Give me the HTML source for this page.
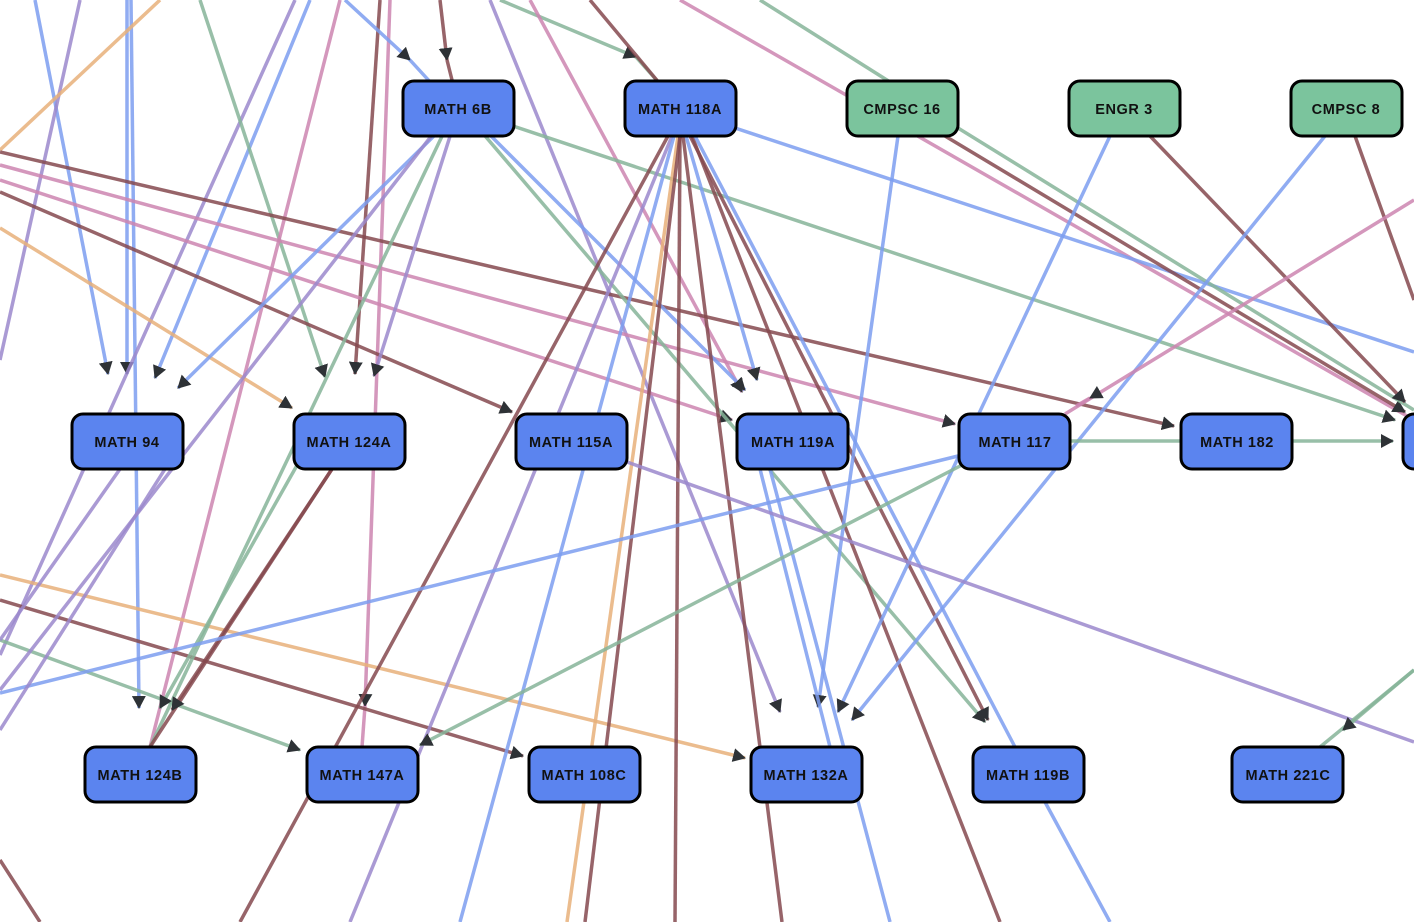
<!DOCTYPE html>
<html><head><meta charset="utf-8"><style>
html,body{margin:0;padding:0;background:#fff;width:1414px;height:922px;overflow:hidden}
svg{display:block}
text{font-family:"Liberation Sans",sans-serif;font-weight:bold;font-size:14.5px;fill:#111;letter-spacing:0.6px}
.e{fill:none;stroke-width:3.5;stroke-opacity:0.85}
.b{stroke:#7d9ef0}.p{stroke:#9b88cc}.k{stroke:#cc85b0}.g{stroke:#86b499}.r{stroke:#85494f}.o{stroke:#e8b07a}
</style></head><body>
<svg width="1414" height="922" viewBox="0 0 1414 922">
<defs><marker id="a" markerUnits="userSpaceOnUse" markerWidth="14" markerHeight="14" refX="12" refY="7" orient="auto"><path d="M0,0 L13,7 L0,14 z" fill="#2e3236"/></marker></defs>
<g>
<line class="e b" x1="35" y1="0" x2="108" y2="374" marker-end="url(#a)"/>
<line class="e b" x1="127" y1="0" x2="127" y2="374" marker-end="url(#a)"/>
<line class="e b" x1="131" y1="0" x2="139" y2="708" marker-end="url(#a)"/>
<line class="e b" x1="310" y1="0" x2="155" y2="378" marker-end="url(#a)"/>
<line class="e p" x1="295" y1="0" x2="0" y2="655"/>
<line class="e p" x1="80" y1="0" x2="0" y2="360"/>
<line class="e o" x1="160" y1="0" x2="0" y2="150"/>
<line class="e g" x1="200" y1="0" x2="325" y2="377" marker-end="url(#a)"/>
<line class="e k" x1="340" y1="0" x2="150" y2="747"/>
<line class="e r" x1="380" y1="0" x2="355" y2="374" marker-end="url(#a)"/>
<line class="e k" x1="390" y1="0" x2="365" y2="706" marker-end="url(#a)"/>
<line class="e k" x1="365" y1="706" x2="362" y2="747"/>
<line class="e r" x1="440" y1="0" x2="447" y2="60" marker-end="url(#a)"/>
<line class="e r" x1="447" y1="60" x2="453" y2="84"/>
<line class="e b" x1="345" y1="0" x2="410" y2="60" marker-end="url(#a)"/>
<line class="e b" x1="410" y1="60" x2="432" y2="84"/>
<line class="e p" x1="490" y1="0" x2="780" y2="712" marker-end="url(#a)"/>
<line class="e g" x1="500" y1="0" x2="636" y2="57" marker-end="url(#a)"/>
<line class="e g" x1="636" y1="57" x2="660" y2="84"/>
<line class="e k" x1="530" y1="0" x2="742" y2="392" marker-end="url(#a)"/>
<line class="e r" x1="590" y1="0" x2="660" y2="84"/>
<line class="e g" x1="760" y1="0" x2="890" y2="82"/>
<line class="e k" x1="680" y1="0" x2="1414" y2="420"/>
<line class="e r" x1="0" y1="152" x2="1174" y2="426" marker-end="url(#a)"/>
<line class="e r" x1="0" y1="192" x2="512" y2="412" marker-end="url(#a)"/>
<line class="e k" x1="0" y1="165" x2="955" y2="424" marker-end="url(#a)"/>
<line class="e k" x1="0" y1="180" x2="732" y2="420" marker-end="url(#a)"/>
<line class="e o" x1="0" y1="228" x2="292" y2="408" marker-end="url(#a)"/>
<line class="e o" x1="0" y1="575" x2="745" y2="758" marker-end="url(#a)"/>
<line class="e r" x1="0" y1="600" x2="523" y2="756" marker-end="url(#a)"/>
<line class="e g" x1="0" y1="640" x2="300" y2="750" marker-end="url(#a)"/>
<line class="e r" x1="0" y1="860" x2="40" y2="922"/>
<line class="e b" x1="440" y1="130" x2="178" y2="388" marker-end="url(#a)"/>
<line class="e p" x1="436" y1="130" x2="0" y2="690"/>
<line class="e g" x1="445" y1="130" x2="150" y2="747"/>
<line class="e p" x1="452" y1="130" x2="374" y2="376" marker-end="url(#a)"/>
<line class="e g" x1="480" y1="130" x2="985" y2="722" marker-end="url(#a)"/>
<line class="e b" x1="485" y1="130" x2="745" y2="390" marker-end="url(#a)"/>
<line class="e g" x1="510" y1="125" x2="1395" y2="420" marker-end="url(#a)"/>
<line class="e r" x1="668" y1="136" x2="240" y2="922"/>
<line class="e p" x1="672" y1="136" x2="350" y2="922"/>
<line class="e b" x1="674" y1="136" x2="460" y2="922"/>
<line class="e o" x1="678" y1="136" x2="567" y2="922"/>
<line class="e r" x1="680" y1="136" x2="585" y2="922"/>
<line class="e r" x1="680" y1="136" x2="675" y2="922"/>
<line class="e r" x1="683" y1="136" x2="782" y2="922"/>
<line class="e b" x1="686" y1="136" x2="757" y2="380" marker-end="url(#a)"/>
<line class="e r" x1="690" y1="136" x2="988" y2="720" marker-end="url(#a)"/>
<line class="e r" x1="692" y1="136" x2="1000" y2="922"/>
<line class="e b" x1="695" y1="136" x2="1015" y2="747"/>
<line class="e b" x1="735" y1="128" x2="1414" y2="352"/>
<line class="e b" x1="898" y1="136" x2="818" y2="707" marker-end="url(#a)"/>
<line class="e r" x1="945" y1="136" x2="1405" y2="412" marker-end="url(#a)"/>
<line class="e g" x1="958" y1="128" x2="1414" y2="410"/>
<line class="e b" x1="1110" y1="136" x2="838" y2="712" marker-end="url(#a)"/>
<line class="e r" x1="1150" y1="136" x2="1405" y2="402" marker-end="url(#a)"/>
<line class="e b" x1="1325" y1="136" x2="852" y2="720" marker-end="url(#a)"/>
<line class="e r" x1="1355" y1="136" x2="1414" y2="300"/>
<line class="e k" x1="1414" y1="200" x2="1065" y2="414"/>
<line class="e k" x1="1090" y1="398" x2="1076" y2="406" marker-start="url(#a)"/>
<line class="e b" x1="770" y1="469" x2="890" y2="922"/>
<line class="e b" x1="760" y1="469" x2="830" y2="747"/>
<line class="e p" x1="627" y1="462" x2="1414" y2="742"/>
<line class="e r" x1="332" y1="469" x2="150" y2="747"/>
<line class="e r" x1="332" y1="469" x2="172" y2="710" marker-end="url(#a)"/>
<line class="e g" x1="300" y1="460" x2="160" y2="708" marker-end="url(#a)"/>
<line class="e g" x1="1071" y1="441" x2="1181" y2="441"/>
<line class="e g" x1="1293" y1="441" x2="1393" y2="441" marker-end="url(#a)"/>
<line class="e b" x1="958" y1="456" x2="0" y2="693"/>
<line class="e g" x1="962" y1="465" x2="420" y2="745" marker-end="url(#a)"/>
<line class="e p" x1="120" y1="469" x2="0" y2="640"/>
<line class="e p" x1="165" y1="469" x2="0" y2="730"/>
<line class="e g" x1="1320" y1="747" x2="1414" y2="670"/>
<line class="e g" x1="1414" y1="670" x2="1343" y2="730" marker-end="url(#a)"/>
<line class="e b" x1="1045" y1="802" x2="1110" y2="922"/>
</g>
<g stroke="#000" stroke-width="3">
<rect x="403" y="81" width="111" height="55" rx="11" fill="#5b84ef"/>
<rect x="625" y="81" width="111" height="55" rx="11" fill="#5b84ef"/>
<rect x="847" y="81" width="111" height="55" rx="11" fill="#7bc49d"/>
<rect x="1069" y="81" width="111" height="55" rx="11" fill="#7bc49d"/>
<rect x="1291" y="81" width="111" height="55" rx="11" fill="#7bc49d"/>
<rect x="72" y="414" width="111" height="55" rx="11" fill="#5b84ef"/>
<rect x="294" y="414" width="111" height="55" rx="11" fill="#5b84ef"/>
<rect x="516" y="414" width="111" height="55" rx="11" fill="#5b84ef"/>
<rect x="737" y="414" width="111" height="55" rx="11" fill="#5b84ef"/>
<rect x="959" y="414" width="111" height="55" rx="11" fill="#5b84ef"/>
<rect x="1181" y="414" width="111" height="55" rx="11" fill="#5b84ef"/>
<rect x="1403" y="414" width="111" height="55" rx="11" fill="#5b84ef"/>
<rect x="85" y="747" width="111" height="55" rx="11" fill="#5b84ef"/>
<rect x="307" y="747" width="111" height="55" rx="11" fill="#5b84ef"/>
<rect x="529" y="747" width="111" height="55" rx="11" fill="#5b84ef"/>
<rect x="751" y="747" width="111" height="55" rx="11" fill="#5b84ef"/>
<rect x="973" y="747" width="111" height="55" rx="11" fill="#5b84ef"/>
<rect x="1232" y="747" width="111" height="55" rx="11" fill="#5b84ef"/>
</g>
<g text-anchor="middle">
<text x="458" y="114">MATH 6B</text>
<text x="680" y="114">MATH 118A</text>
<text x="902" y="114">CMPSC 16</text>
<text x="1124" y="114">ENGR 3</text>
<text x="1346" y="114">CMPSC 8</text>
<text x="127" y="447">MATH 94</text>
<text x="349" y="447">MATH 124A</text>
<text x="571" y="447">MATH 115A</text>
<text x="793" y="447">MATH 119A</text>
<text x="1015" y="447">MATH 117</text>
<text x="1237" y="447">MATH 182</text>
<text x="140" y="780">MATH 124B</text>
<text x="362" y="780">MATH 147A</text>
<text x="584" y="780">MATH 108C</text>
<text x="806" y="780">MATH 132A</text>
<text x="1028" y="780">MATH 119B</text>
<text x="1288" y="780">MATH 221C</text>
</g>
</svg>
</body></html>
